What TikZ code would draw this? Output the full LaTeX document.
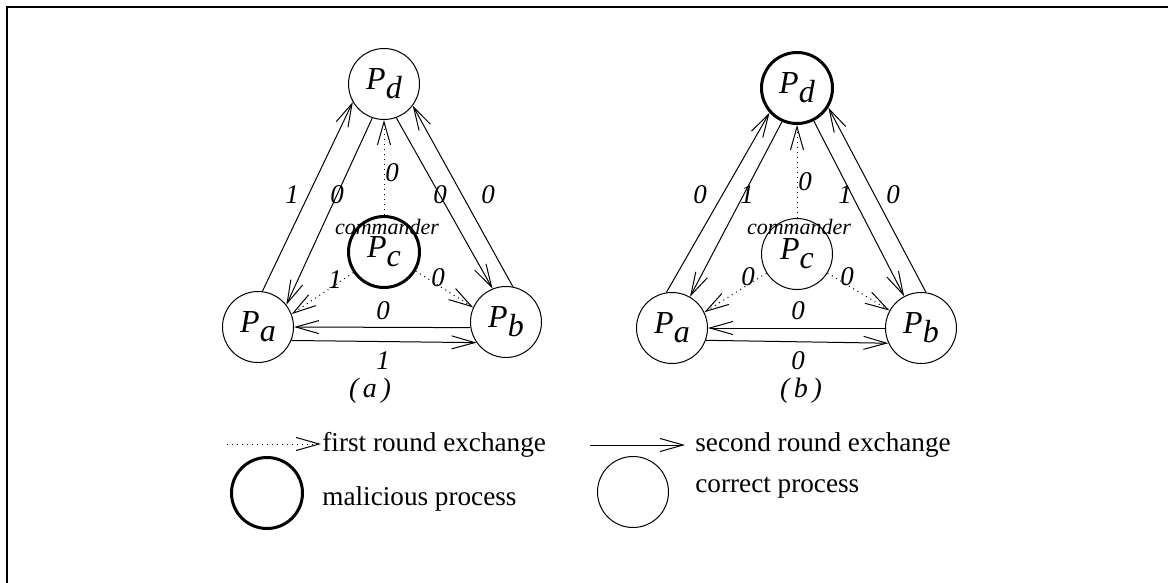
\documentclass[tikz,border=0pt]{standalone}
\usepackage{fontspec}
\setmainfont{Liberation Serif}
\usetikzlibrary{arrows.meta}
\newcommand{\pname}[1]{P\raisebox{-0.28em}{#1}}

\begin{document}
\begin{tikzpicture}[x=0.5pt, y=-0.5pt,
  proc/.style={circle, draw, line width=0.5pt, minimum size=35.5pt, inner sep=0pt,
               font=\fontsize{16}{19}\selectfont\itshape},
  bad/.style={proc, line width=1.5pt},
  msg/.style={-{Straight Barb[length=11.5pt, width=6.5pt]}, line width=0.5pt},
  firstmsg/.style={msg, dotted},
  val/.style={font=\fontsize{13.5}{16}\selectfont\itshape, inner sep=0pt},
  role/.style={font=\fontsize{11}{13}\selectfont\itshape, inner sep=0pt},
  subfig/.style={font=\fontsize{14}{17}\selectfont\itshape, inner sep=0pt},
  legtext/.style={font=\fontsize{13.6}{16}\selectfont, inner sep=0pt, anchor=base west}
]
\useasboundingbox (0,0) rectangle (1168,583);
\draw[line width=1.2pt] (7,583) -- (7,7) -- (1168,7);

% (a) commander is malicious
\node[proc] (aPa) at (258,327) {\pname{a}};
\node[proc] (aPb) at (506,322) {\pname{b}};
\node[bad]  (aPc) at (384,252) {\pname{c}};
\node[proc] (aPd) at (384,84)  {\pname{d}};
\draw[msg] (aPa.83)  -- (aPd.210);
\draw[msg] (aPd.251) -- (aPa.38);
\draw[msg] (aPd.290) -- (aPb.112);
\draw[msg] (aPb.79)  -- (aPd.323);
\draw[msg] (aPb.189) -- (aPa.0);
\draw[msg] (aPa.338) -- (aPb.215);
\draw[firstmsg] (aPc.90)  -- (aPd.270);
\draw[firstmsg] (aPc.214) -- (aPa.21);
\draw[firstmsg] (aPc.329) -- (aPb.156);
\node[val] (aV1) at (292,195) {1};
\node[val] (aV2) at (337,195) {0};
\node[val] (aV3) at (392,173) {0};
\node[val] (aV4) at (440,195) {0};
\node[val] (aV5) at (488,195) {0};
\node[val] (aV6) at (335,280) {1};
\node[val] (aV7) at (438,278) {0};
\node[val] (aV8) at (383,311) {0};
\node[val] (aV9) at (383,361) {1};
\node[role] (aCmd) at (387,227) {commander};
\node[subfig] (aCap) at (370,391) {(\,a\,)};

% (b) P_d is malicious
\node[proc] (bPa) at (672,328) {\pname{a}};
\node[proc] (bPb) at (921,328) {\pname{b}};
\node[proc] (bPc) at (797,254) {\pname{c}};
\node[bad]  (bPd) at (797,88)  {\pname{d}};
\draw[msg] (bPa.99)  -- (bPd.222);
\draw[msg] (bPd.246) -- (bPa.60);
\draw[msg] (bPd.297) -- (bPb.118);
\draw[msg] (bPb.82)  -- (bPd.328);
\draw[msg] (bPb.180) -- (bPa.0);
\draw[msg] (bPa.340) -- (bPb.205);
\draw[firstmsg] (bPc.90)  -- (bPd.270);
\draw[firstmsg] (bPc.212) -- (bPa.26);
\draw[firstmsg] (bPc.328) -- (bPb.151);
\node[val] (bV1) at (700,195) {0};
\node[val] (bV2) at (747,195) {1};
\node[val] (bV3) at (805,182) {0};
\node[val] (bV4) at (845,195) {1};
\node[val] (bV5) at (893,195) {0};
\node[val] (bV6) at (748,277) {0};
\node[val] (bV7) at (847,277) {0};
\node[val] (bV8) at (798,311) {0};
\node[val] (bV9) at (798,361) {0};
\node[role] (bCmd) at (799,227) {commander};
\node[subfig] (bCap) at (801,391) {(\,b\,)};

% legend
\coordinate (dotS) at (227,444);
\coordinate (dotE) at (321,444);
\draw[firstmsg] (dotS) -- (dotE);
\node[legtext] (dotT) at (322,451) {first round exchange};
\coordinate (solS) at (590,445);
\coordinate (solE) at (685,445);
\draw[msg] (solS) -- (solE);
\node[legtext] (solT) at (695,451) {second round exchange};
\node[bad]  (mal) at (267,493) {};
\node[legtext] (malT) at (322,505) {malicious process};
\node[proc] (cor) at (633,492) {};
\node[legtext] (corT) at (695,492) {correct process};
\end{tikzpicture}
\end{document}
